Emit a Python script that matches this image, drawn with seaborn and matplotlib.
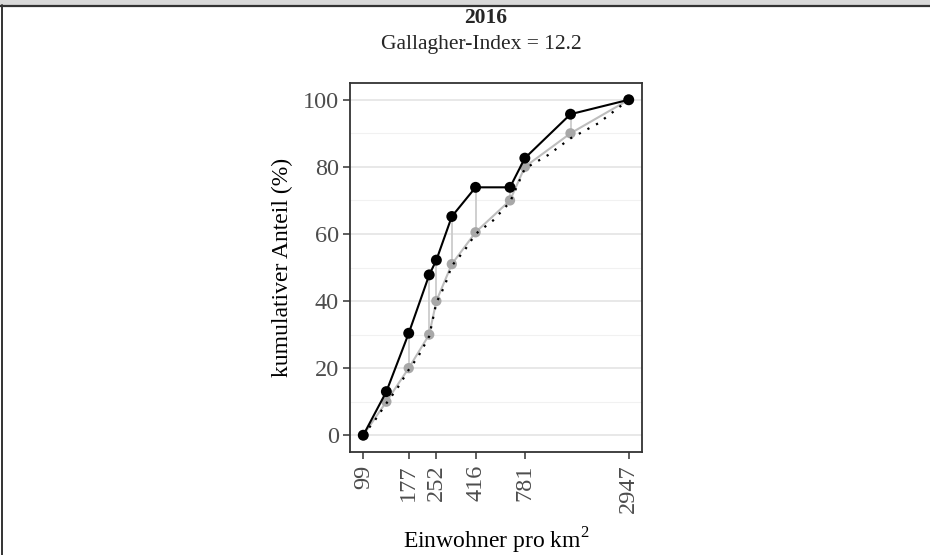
import matplotlib
matplotlib.use("Agg")
import matplotlib.pyplot as plt
import seaborn as sns
import pandas as pd
import numpy as np
from matplotlib.patches import Rectangle
from matplotlib.lines import Line2D
from matplotlib.ticker import FixedLocator, NullLocator

# ---- data ----
density = [99, 133, 177, 230, 252, 307, 416, 646, 781, 1400, 2947]
seat_share = [0, 13.0, 30.4, 47.8, 52.2, 65.2, 73.9, 73.9, 82.6, 95.7, 100]
pop_share = [0, 10, 20, 30, 40, 51, 60.5, 70, 80, 90, 100]
curve_x = [99, 115, 133, 153, 177, 200, 230, 252, 280, 307, 360, 416, 520, 646, 781, 1050, 1400, 2000, 2947]
curve_y = [0, 4.5, 9.5, 14, 19.5, 23.5, 29.5, 39.5, 44.5, 50.5, 55, 60, 64, 69.5, 79.5, 83.5, 88.5, 93, 100]
x_ticks = [99, 177, 252, 416, 781, 2947]
y_ticks = [0, 20, 40, 60, 80, 100]
title = "2016"
subtitle = "Gallagher-Index = 12.2"
xlabel = "Einwohner pro km$^2$"
ylabel = "kumulativer Anteil (%)"

df = pd.DataFrame({"density": density, "seats": seat_share, "pop": pop_share})
dfc = pd.DataFrame({"x": curve_x, "y": curve_y})

sns.set_theme(style="white")
plt.rcParams["font.family"] = ["Liberation Serif", "DejaVu Serif"]
plt.rcParams["mathtext.fontset"] = "custom"
plt.rcParams["mathtext.rm"] = "Liberation Serif"

fig = plt.figure(figsize=(9.3, 5.55), dpi=100)
ax = fig.add_axes([350 / 930, 1 - 452 / 555, 292 / 930, 369 / 555])
ax.set_xscale("log")

# grid
for v in range(0, 101, 20):
    ax.axhline(v, color="#e6e6e6", lw=1.3, zorder=0)
for v in range(10, 100, 20):
    ax.axhline(v, color="#f1f1f1", lw=0.8, zorder=0)

ax.vlines(df["density"], df["pop"], df["seats"], color="#cccccc", lw=1.3, zorder=1)
sns.lineplot(data=df, x="density", y="pop", ax=ax, color="#bdbdbd", lw=1.5, zorder=2, sort=False)
sns.scatterplot(data=df, x="density", y="pop", ax=ax, color="#a8a8a8", s=55, edgecolor="none", zorder=3)
sns.lineplot(data=dfc, x="x", y="y", ax=ax, color="black", lw=1.6, linestyle=(0, (1, 3.4)), zorder=4, sort=False)
sns.lineplot(data=df, x="density", y="seats", ax=ax, color="black", lw=1.5, zorder=5, sort=False)
sns.scatterplot(data=df, x="density", y="seats", ax=ax, color="black", s=62, edgecolor="none", zorder=6)

lo, hi = np.log10(99), np.log10(2947)
pad = 0.05 * (hi - lo)
ax.set_xlim(10 ** (lo - pad), 10 ** (hi + pad))
ax.set_ylim(-5, 105)

ax.set_xticks(x_ticks)
ax.xaxis.set_minor_locator(NullLocator())
ax.set_xticklabels([str(t) for t in x_ticks], rotation=90, fontsize=17.5, color="#4d4d4d")
ax.set_yticks(y_ticks)
ax.set_yticklabels([str(t) for t in y_ticks], fontsize=17.5, color="#4d4d4d")
ax.tick_params(axis="both", which="major", direction="out", length=5, width=1.1,
               color="#333333", bottom=True, left=True, pad=3)
ax.tick_params(axis="x", pad=4)
ax.set_xlabel(xlabel, fontsize=17, labelpad=9, color="black")
ax.set_ylabel(ylabel, fontsize=17, labelpad=7, color="black")
for s in ax.spines.values():
    s.set_visible(True)
    s.set_color("#333333")
    s.set_linewidth(1.3)

fig.text(0.522, 1 - 18 / 555, title, ha="center", va="center", fontsize=15.5, fontweight="bold")
fig.text(0.518, 1 - 44 / 555, subtitle, ha="center", va="center", fontsize=15.5)

# frame strip
fig.patches.append(Rectangle((0, 1 - 5 / 555), 1, 5 / 555, transform=fig.transFigure,
                             facecolor="#d9d9d9", edgecolor="none", zorder=0))
fig.lines.append(Line2D([0, 1], [1 - 5.5 / 555, 1 - 5.5 / 555], transform=fig.transFigure,
                        color="#333333", lw=1.6))
fig.lines.append(Line2D([1.5 / 930, 1.5 / 930], [0, 1 - 5 / 555], transform=fig.transFigure,
                        color="#333333", lw=1.4))

fig.savefig("out.png", dpi=100)
